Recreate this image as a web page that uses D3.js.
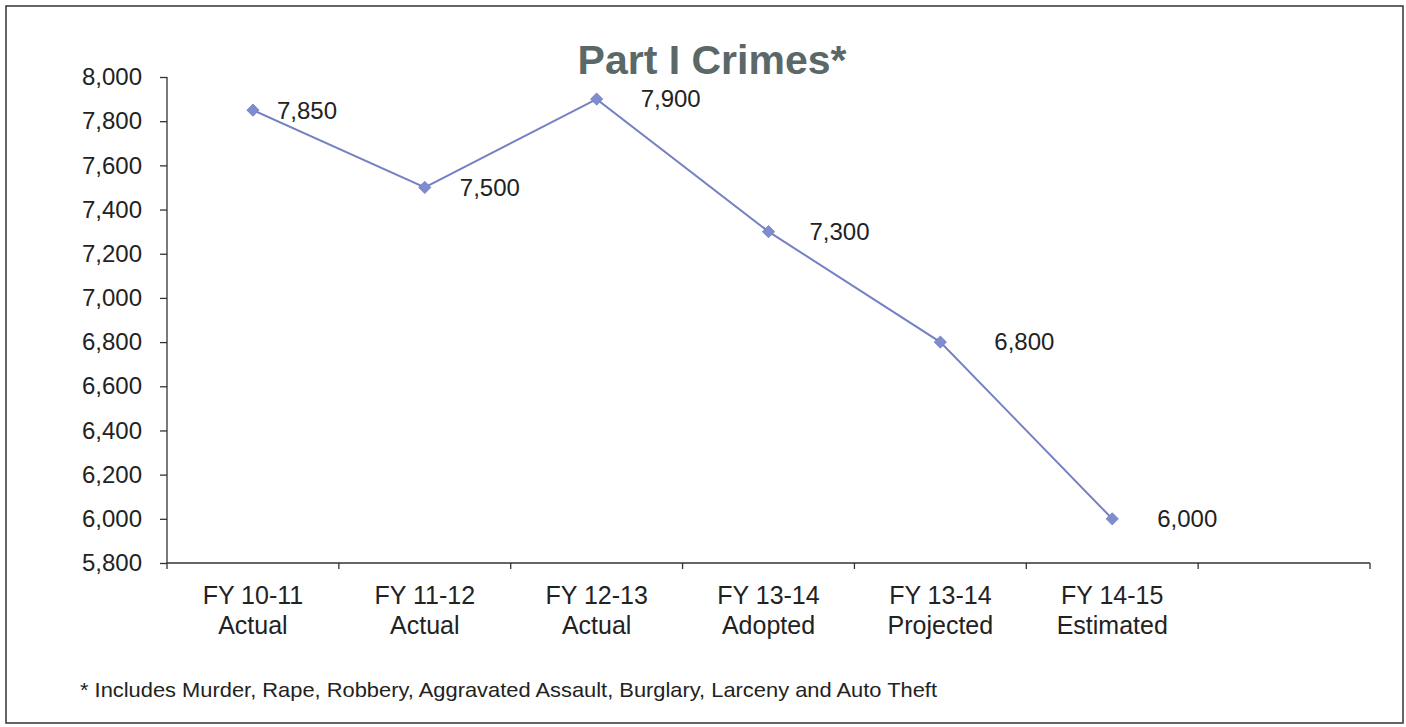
<!DOCTYPE html>
<html><head><meta charset="utf-8">
<script src="https://cdn.jsdelivr.net/npm/d3@7/dist/d3.min.js"></script>
<style>
html,body{margin:0;padding:0;background:#fff;}
svg{display:block;font-family:"Liberation Sans",Arial,sans-serif;}
</style></head>
<body>
<svg id="c" width="1406" height="727"></svg>
<script>
const categories = ["FY 10-11|Actual","FY 11-12|Actual","FY 12-13|Actual","FY 13-14|Adopted","FY 13-14|Projected","FY 14-15|Estimated",""];
const values = [7850, 7500, 7900, 7300, 6800, 6000];
const valueLabels = ["7,850","7,500","7,900","7,300","6,800","6,000"];
const yTicks = [5800,6000,6200,6400,6600,6800,7000,7200,7400,7600,7800,8000];
const labelNudge = [24, 35, 44, 41, 54, 45];

(function(){
const svg = d3.select("#c");
const pL = 167, pR = 1370, pT = 77, pB = 563;

// frame
svg.append("rect").attr("x",6).attr("y",6).attr("width",1397).attr("height",717)
  .attr("fill","none").attr("stroke","#333").attr("stroke-width",1.5);

const x = d3.scaleBand().domain(categories.map((d,i)=>i)).range([pL,pR]).paddingInner(0).paddingOuter(0);
const y = d3.scaleLinear().domain([5800,8000]).range([pB,pT]);

// y axis
const ya = svg.append("g").attr("transform",`translate(${pL},0)`)
  .call(d3.axisLeft(y).tickValues(yTicks).tickSize(7).tickPadding(18).tickFormat(d3.format(",")));
ya.selectAll("text").attr("font-size",24).attr("fill","#222").attr("font-family","Liberation Sans, Arial, sans-serif");
ya.selectAll("line,path").attr("stroke","#333").attr("stroke-width",1.3);
ya.select("path").attr("d",`M0,${pT}V${pB}`);

// x axis
const xg = svg.append("g").attr("transform",`translate(0,${pB})`);
xg.append("line").attr("x1",pL).attr("x2",pR).attr("y1",0).attr("y2",0).attr("stroke","#333").attr("stroke-width",1.3);
const edges = categories.map((d,i)=>x(i)).concat([pR]);
xg.selectAll("line.t").data(edges).join("line").attr("class","t")
  .attr("x1",d=>d).attr("x2",d=>d).attr("y1",0).attr("y2",6).attr("stroke","#333").attr("stroke-width",1.3);
categories.forEach((c,i)=>{
  if(!c) return;
  const parts = c.split("|");
  const t = xg.append("text").attr("text-anchor","middle").attr("font-size",25).attr("fill","#222")
    .attr("x", x(i)+x.bandwidth()/2);
  parts.forEach((p,j)=>t.append("tspan").attr("x",x(i)+x.bandwidth()/2).attr("y",41+j*30).text(p));
});

// line
const cx = i => x(i)+x.bandwidth()/2;
svg.append("path").datum(values)
  .attr("d", d3.line().x((d,i)=>cx(i)).y(d=>y(d)))
  .attr("fill","none").attr("stroke","#7680c4").attr("stroke-width",2);
svg.selectAll("path.m").data(values).join("path").attr("class","m")
  .attr("d", d3.symbol().type(d3.symbolDiamond2).size(95))
  .attr("transform",(d,i)=>`translate(${cx(i)},${y(d)})`)
  .attr("fill","#7f8ccf").attr("stroke","#6f7cc0").attr("stroke-width",0.8);

// labels
svg.selectAll("text.v").data(values).join("text").attr("class","v")
  .attr("x",(d,i)=>cx(i)+labelNudge[i]).attr("y",d=>y(d)).attr("dy","0.35em")
  .attr("font-size",24).attr("fill","#222").text((d,i)=>valueLabels[i]);

// title
svg.append("text").attr("x",712).attr("y",74).attr("text-anchor","middle")
  .attr("font-size",41).attr("font-weight","bold").attr("fill","#5b6868").text("Part I Crimes*");

// footnote
svg.append("text").attr("x",80).attr("y",697).attr("font-size",21).attr("fill","#222")
  .attr("textLength",857).attr("lengthAdjust","spacingAndGlyphs")
  .text("* Includes Murder, Rape, Robbery, Aggravated Assault, Burglary, Larceny and Auto Theft");
})();
</script>
</body></html>
